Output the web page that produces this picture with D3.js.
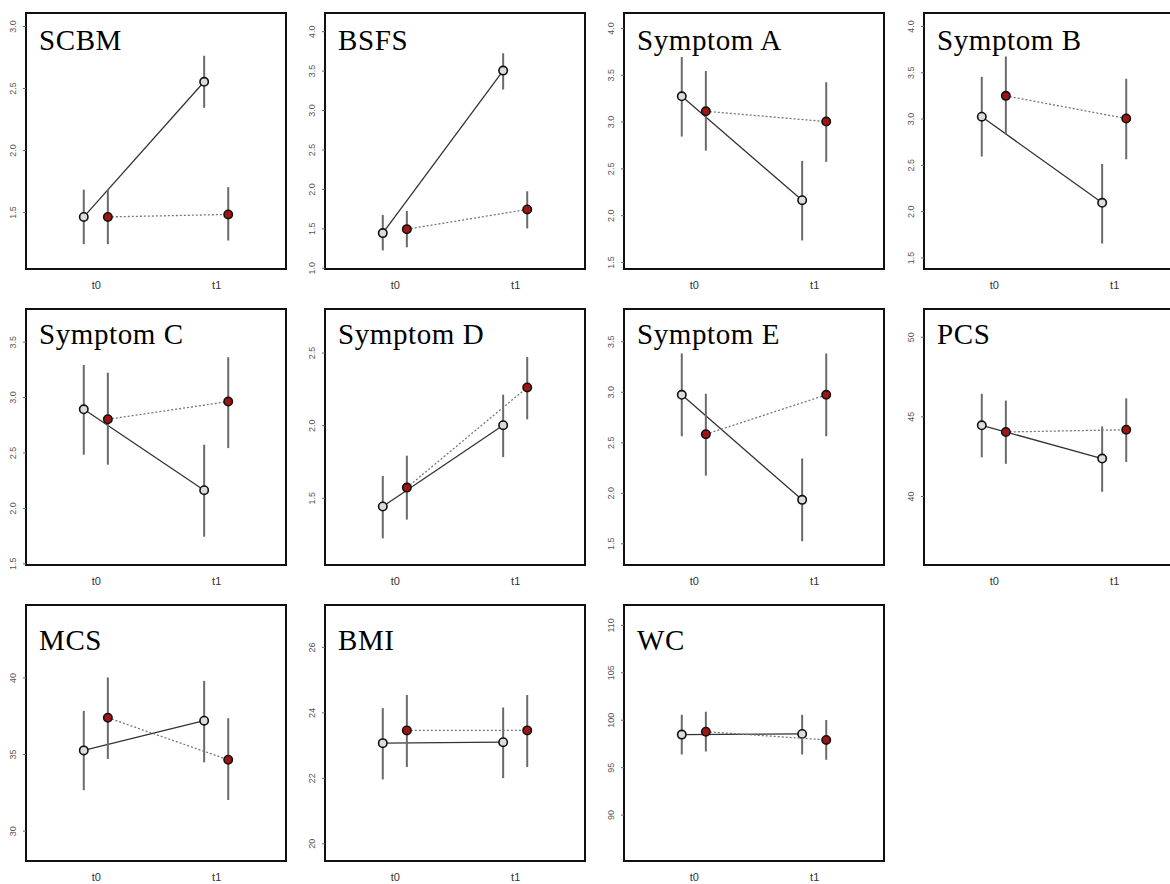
<!DOCTYPE html>
<html>
<head>
<meta charset="utf-8">
<script src="https://cdn.jsdelivr.net/npm/d3@7"></script>
<style>
    body { margin: 0; background: #fff; }
    svg { display: block; }
</style>
</head>
<body>
<div id="chart"></div>
<script>
////////////////////////////
// values //
////////////////////////////

let panelNames = ["SCBM", "BSFS", "Symptom A", "Symptom B", "Symptom C", "Symptom D", "Symptom E", "PCS", "MCS", "BMI", "WC"]
let timeLabels = ["t0", "t1"]

// y limits of each panel and its tick labels
let yLimits = [[1.04, 3.105], [0.985, 4.23], [1.425, 4.16], [1.375, 4.14], [1.485, 3.795], [1.037, 2.80], [1.285, 3.82], [35.67, 51.74], [28.02, 44.73], [19.46, 27.28], [85.11, 112.09]]
let yTicks = [
    [1.5, 2.0, 2.5, 3.0],
    [1.0, 1.5, 2.0, 2.5, 3.0, 3.5, 4.0],
    [1.5, 2.0, 2.5, 3.0, 3.5, 4.0],
    [1.5, 2.0, 2.5, 3.0, 3.5, 4.0],
    [1.5, 2.0, 2.5, 3.0, 3.5],
    [1.5, 2.0, 2.5],
    [1.5, 2.0, 2.5, 3.0, 3.5],
    [40, 45, 50],
    [30, 35, 40],
    [20, 22, 24, 26],
    [90, 95, 100, 105, 110]
]

// open (grey) group: mean, lower, upper at t0 and t1
let greyMean = [[1.46, 2.55], [1.44, 3.50], [3.27, 2.16], [3.02, 2.09], [2.89, 2.16], [1.44, 2.00], [2.97, 1.93], [44.44, 42.35], [35.24, 37.18], [23.06, 23.09], [98.43, 98.50]]
let greyLow = [[1.24, 2.34], [1.22, 3.26], [2.84, 1.73], [2.59, 1.65], [2.48, 1.74], [1.22, 1.78], [2.56, 1.52], [42.43, 40.27], [32.64, 34.46], [21.95, 21.99], [96.34, 96.34]]
let greyHigh = [[1.68, 2.76], [1.67, 3.72], [3.69, 2.58], [3.45, 2.51], [3.29, 2.57], [1.65, 2.21], [3.38, 2.34], [46.42, 44.37], [37.82, 39.78], [24.13, 24.15], [100.52, 100.52]]

// filled (red) group
let redMean = [[1.46, 1.48], [1.49, 1.74], [3.11, 3.00], [3.245, 3.00], [2.80, 2.96], [1.57, 2.26], [2.58, 2.97], [44.02, 44.16], [37.37, 34.63], [23.45, 23.45], [98.74, 97.87]]
let redLow = [[1.24, 1.27], [1.26, 1.50], [2.69, 2.57], [2.83, 2.56], [2.39, 2.54], [1.35, 2.04], [2.17, 2.56], [42.02, 42.14], [34.68, 32.00], [22.33, 22.33], [96.65, 95.78]]
let redHigh = [[1.68, 1.70], [1.72, 1.97], [3.54, 3.42], [3.67, 3.43], [3.22, 3.36], [1.79, 2.47], [2.98, 3.38], [45.99, 46.13], [40.00, 37.34], [24.53, 24.53], [100.84, 99.97]]


function buildChart() {
    let width = 1170, height = 884
    let colLeft = [26, 325, 624, 924]
    let rowTop = [13, 309, 605]
    let boxW = 260, boxH = 256
    let titleDrop = [37, 35, 45]

    let svg = d3.select("#chart").append("svg")
        .attr("width", width)
        .attr("height", height)

    panelNames.forEach(function(name, i) {
        let col = i % 4, row = Math.floor(i / 4)
        let g = svg.append("g")
            .attr("transform", "translate(" + colLeft[col] + "," + rowTop[row] + ")")

        let x = d3.scaleLinear().domain([0.42, 2.58]).range([0, boxW])
        let y = d3.scaleLinear().domain(yLimits[i]).range([boxH, 0])

        g.append("rect")
            .attr("width", boxW)
            .attr("height", boxH)
            .attr("fill", "#fff")
            .attr("stroke", "#111")
            .attr("stroke-width", 2)

        // y axis with rotated labels
        let decimals = yTicks[i][0] < 10 ? ".1f" : "d"
        let yAx = g.append("g")
            .call(d3.axisLeft(y).tickValues(yTicks[i]).tickSize(3).tickFormat(d3.format(decimals)))
        yAx.select(".domain").remove()
        yAx.selectAll("line").attr("stroke", "#666")
        yAx.selectAll("text")
            .attr("transform", "rotate(-90)")
            .attr("x", 0)
            .attr("y", -10)
            .attr("dy", 0)
            .attr("text-anchor", "middle")
            .attr("fill", "#555")
            .style("font-family", "'Liberation Sans', Arial, sans-serif")
            .style("font-size", "9px")

        // x axis
        let xAx = g.append("g")
            .attr("transform", "translate(0," + boxH + ")")
            .call(d3.axisBottom(x).tickValues([1, 2]).tickSize(0).tickPadding(12).tickFormat(function(d) { return timeLabels[d - 1] }))
        xAx.select(".domain").remove()
        xAx.selectAll("text")
            .attr("fill", "#333")
            .style("font-family", "'Liberation Sans', Arial, sans-serif")
            .style("font-size", "11px")

        let groups = [
            { mean: greyMean[i], low: greyLow[i], high: greyHigh[i], shift: -0.1, fill: "#dcdcdc", dash: null, lineColor: "#333" },
            { mean: redMean[i], low: redLow[i], high: redHigh[i], shift: 0.1, fill: "#a01414", dash: "2,2", lineColor: "#777" }
        ]

        groups.forEach(function(grp) {
            let pts = grp.mean.map(function(m, t) {
                return { t: t + 1 + grp.shift, m: m, lo: grp.low[t], hi: grp.high[t] }
            })

            g.selectAll(null)
                .data(pts)
                .enter()
                .append("line")
                .attr("x1", function(d) { return x(d.t) })
                .attr("x2", function(d) { return x(d.t) })
                .attr("y1", function(d) { return y(d.lo) })
                .attr("y2", function(d) { return y(d.hi) })
                .attr("stroke", "#6a6a6a")
                .attr("stroke-width", 2)

            let line = d3.line()
                .x(function(d) { return x(d.t) })
                .y(function(d) { return y(d.m) })

            g.append("path")
                .datum(pts)
                .attr("fill", "none")
                .attr("stroke", grp.lineColor)
                .attr("stroke-width", 1.3)
                .attr("stroke-dasharray", grp.dash)
                .attr("d", line)

            g.selectAll(null)
                .data(pts)
                .enter()
                .append("circle")
                .attr("cx", function(d) { return x(d.t) })
                .attr("cy", function(d) { return y(d.m) })
                .attr("r", 4.2)
                .attr("fill", grp.fill)
                .attr("stroke", "#111")
                .attr("stroke-width", 1.6)
        })

        g.append("text")
            .attr("x", 13)
            .attr("y", titleDrop[row])
            .attr("fill", "#000")
            .style("font-family", "'Palatino Linotype', 'Book Antiqua', Palatino, 'Liberation Serif', serif")
            .style("font-size", "29px")
            .style("letter-spacing", "0.6px")
            .text(name)
    })
}

buildChart()
</script>
</body>
</html>
